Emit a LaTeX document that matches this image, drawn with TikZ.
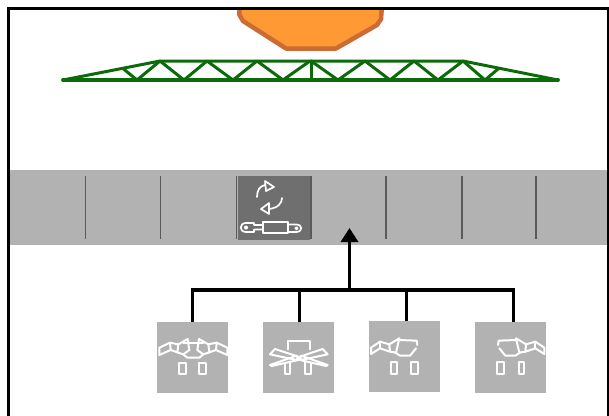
\documentclass[tikz,border=0pt]{standalone}
\usetikzlibrary{arrows.meta}
\definecolor{bandgray}{HTML}{B2B2B2}
\definecolor{darkcell}{HTML}{6F6F6F}
\definecolor{tickgray}{HTML}{5A5A5A}
\definecolor{boomgreen}{HTML}{0B6B0B}
\definecolor{tankfill}{HTML}{FF9933}
\definecolor{tankedge}{HTML}{CC6B33}
\tikzset{
  frameline/.style={draw=black,line width=3.4pt},
  tick/.style={draw=tickgray,line width=1.2pt},
  boom/.style={draw=boomgreen,line width=3pt,line cap=round,line join=round},
  modebox/.style={fill=bandgray,draw=none,inner sep=0pt,minimum width=71pt,minimum height=71pt,anchor=north west},
  cell/.style={fill=darkcell,draw=none,inner sep=0pt,minimum width=72pt,minimum height=64pt,anchor=north west},
  bandbox/.style={fill=bandgray,draw=none,inner sep=0pt,minimum width=598pt,minimum height=75pt,anchor=north west},
  glyph/.style={draw=white,line width=2pt,line join=round,line cap=round},
  cellglyph/.style={draw=white,line width=1.7pt,line join=round,line cap=round},
  bus/.style={draw=black,line width=3.4pt},
  busarrow/.style={draw=black,line width=3.4pt,-{Triangle[length=14pt,width=17pt]}}
}
\newcommand{\wingtank}{%
  \draw[glyph] (33,98)--(60,80)--(88,88)--(90,110)--(60,100)--(33,117)--cycle;
  \draw[glyph] (60,80)--(60,100);
  \draw[glyph] (88,88)--(118,70)--(108,113)--(90,110);
  \draw[glyph] (118,75)--(170,77)--(172,90);
  \draw[glyph] (168,100)--(150,122)--(120,122)--(105,112);
  \draw[glyph] (93,140) rectangle (110,177);
  \draw[glyph] (153,140) rectangle (175,177);
}
\newcommand{\halfwing}{%
  \draw[glyph] (28,98)--(60,83)--(85,88)--(82,112)--(62,105)--(28,120)--cycle;
  \draw[glyph] (60,83)--(62,105);
  \draw[glyph] (85,88)--(113,72)--(118,105)--(100,118)--(82,112);
  \draw[glyph] (100,118)--(112,128)--(130,128);
  \draw[glyph] (100,85)--(130,85);
}
\begin{document}
\begin{tikzpicture}[x=1pt,y=-1pt]
\useasboundingbox (0,0) rectangle (609,415);
\fill[white] (0,0) rectangle (609,415);
% tank
\begin{scope}
\clip (10,10) rectangle (608,100);
\draw[fill=tankfill,draw=tankedge,line width=4.5pt,line join=round]
  (239,5)--(239.5,15)--(243,21)--(286,48.5)--(336,48.5)--(377,25)--(381,19)--(382,5)--cycle;
\end{scope}
% boom
\draw[boom,line width=3.8pt] (63,80)--(558,80);
\draw[boom] (63,80)--(160,61)--(463,61)--(558,80);
\draw[boom] (123,68.5)--(137,80)--(160,61)--(184,80)--(207,61)--(233,80)--(257,61)--(283,80)--(310,61);
\draw[boom] (311,61)--(311,80);
\draw[boom] (311,61)--(338,80)--(365,61)--(390,80)--(414,61)--(438,80)--(463,61)--(485,80)--(498,69);
% band
\node[bandbox] (band) at (10,170) {};
\node[cell] (active) at (238,176) {};
\foreach \tx/\nm in {85.5/a,160.5/b,236.5/c,311/d,386/e,462/f,536/g}{
  \coordinate (t\nm top) at (\tx,176);
  \coordinate (t\nm bot) at (\tx,239);
  \draw[tick] (t\nm top)--(t\nm bot);
}
% active cell glyph
\draw[cellglyph] (257,197) .. controls (257,190) and (260,186) .. (265,185);
\draw[cellglyph] (265,181)--(274,187)--(266,191)--cycle;
\draw[cellglyph] (282,198) .. controls (282,203) and (278,208) .. (269,209);
\draw[cellglyph] (269,203)--(261,209)--(269,214)--cycle;
\draw[cellglyph] (263,222) rectangle (288,233);
\draw[cellglyph] (263,225)--(254,225)--(254,223)--(246,223) .. controls (239,223) and (239,232) .. (246,232)--(254,232)--(254,229.5)--(263,229.5);
\draw[cellglyph] (246,227.5) circle[radius=1.4];
\draw[cellglyph] (288,224.5)--(296,224.5) .. controls (303,224.5) and (303,232) .. (296,232)--(288,232);
\draw[cellglyph] (296.5,228.3) circle[radius=1.2];
% mode boxes
\node[modebox] (m1) at (157,322) {};
\node[modebox] (m2) at (263,322) {};
\node[modebox] (m3) at (369,321) {};
\node[modebox] (m4) at (475,322) {};
% connectors
\coordinate (busL) at (192.5,290);
\coordinate (busA) at (299.5,290);
\coordinate (busM) at (349.5,290);
\coordinate (busB) at (406.5,290);
\coordinate (busR) at (513.5,290);
\coordinate (target) at (349.5,228);
\draw[bus] (m1.north -| busL)--(busL)--(busR)--(m4.north -| busR);
\draw[bus] (m2.north -| busA)--(busA);
\draw[bus] (m3.north -| busB)--(busB);
\draw[busarrow] (busM)--(target);
% icon 1
\begin{scope}[shift={(150,315)},x=0.3333pt,y=-0.3333pt]
  \halfwing
  \draw[glyph] (87,143) rectangle (108,178);
  \draw[glyph] (148,143) rectangle (168,178);
\end{scope}
\begin{scope}[shift={(236.67,315)},x=-0.3333pt,y=-0.3333pt]
  \halfwing
\end{scope}
% icon 2
\begin{scope}[shift={(150,315)},x=0.3333pt,y=-0.3333pt]
  \draw[glyph] (413,103)--(413,77)--(480,77)--(480,103);
  \draw[glyph] (360,118)--(375,102)--(445,125)--(440,135)--cycle;
  \draw[glyph] (360,150)--(440,122)--(445,135)--(365,153)--cycle;
  \draw[glyph] (533,118)--(518,102)--(450,125)--(453,135)--cycle;
  \draw[glyph] (533,150)--(453,122)--(450,135)--(528,153)--cycle;
  \draw[glyph] (405,146)--(405,177)--(420,177)--(420,140);
  \draw[glyph] (465,140)--(465,177)--(482,177)--(482,146);
\end{scope}
% icon 3
\begin{scope}[shift={(360,315)},x=0.3333pt,y=-0.3333pt]
  \wingtank
\end{scope}
% icon 4
\begin{scope}[shift={(555.33,315)},x=-0.3333pt,y=-0.3333pt]
  \wingtank
\end{scope}
% frame
\draw[frameline] (8.5,425)--(8.5,8.5)--(608.5,8.5)--(608.5,425);
\end{tikzpicture}
\end{document}
